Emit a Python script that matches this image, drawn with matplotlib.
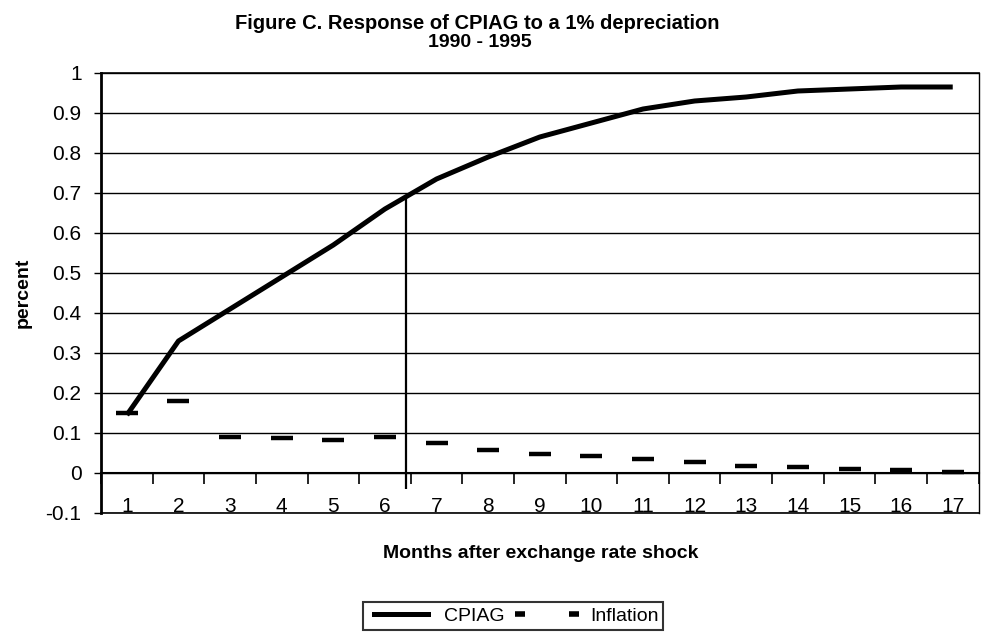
import matplotlib
matplotlib.use("Agg")
import matplotlib.pyplot as plt
from matplotlib.lines import Line2D
import numpy as np

plt.rcParams['font.family'] = ['Liberation Sans', 'DejaVu Sans']

months = list(range(1, 18))
cpiag = [0.145, 0.33, 0.41, 0.49, 0.57, 0.66, 0.735, 0.79, 0.84, 0.875,
         0.91, 0.93, 0.94, 0.955, 0.96, 0.965, 0.965]
inflation = [0.15, 0.18, 0.09, 0.087, 0.083, 0.09, 0.075, 0.058, 0.048, 0.043,
             0.035, 0.028, 0.018, 0.015, 0.01, 0.007, 0.002]
yticks = [round(-0.1 + 0.1 * i, 1) for i in range(12)]
ytick_labels = ['-0.1', '0', '0.1', '0.2', '0.3', '0.4', '0.5', '0.6', '0.7',
                '0.8', '0.9', '1']
marker_x = 6.41
marker_y = (-0.04, 0.695)

fig = plt.figure(figsize=(9.81, 6.32), dpi=100)
ax = fig.add_axes([0.103, 0.1883, 0.8945, 0.6962])

ax.set_xlim(0.5, 17.5)
ax.set_ylim(-0.1, 1.0)

# gridlines
ax.set_yticks(yticks)
ax.set_yticklabels(ytick_labels, fontsize=15)
ax.yaxis.grid(True, color='black', linewidth=1.0)
ax.set_axisbelow(True)
ax.tick_params(axis='y', direction='out', length=5, width=1, pad=9)

# category axis at y=0
ax.spines['bottom'].set_position(('data', 0))
ax.spines['bottom'].set_linewidth(1.5)
ax.set_xticks(months)
ax.set_xticklabels([str(m) for m in months], fontsize=15)
ax.tick_params(axis='x', which='major', length=0, pad=17)
ax.set_xticks(np.arange(0.5, 18.0, 1.0), minor=True)
ax.tick_params(axis='x', which='minor', direction='out', length=8, width=1.2)
ax.axhline(-0.1, color='black', linewidth=1.2, clip_on=False)

ax.spines['left'].set_linewidth(2)
ax.spines['top'].set_linewidth(1.2)
ax.spines['right'].set_linewidth(1)

l1, = ax.plot(months, cpiag, color='black', linewidth=3.6, solid_capstyle='butt',
              label='CPIAG', zorder=4)
l2, = ax.plot(months, inflation, linestyle='none', marker='_', markersize=16,
              markeredgewidth=3.2, color='black', label='Inflation', zorder=4)

ax.vlines(marker_x, marker_y[0], marker_y[1], color='black', linewidth=1.6,
          clip_on=False, zorder=3)

fig.text(0.487, 0.963, 'Figure C. Response of CPIAG to a 1% depreciation',
         ha='center', va='center', fontsize=14.5, fontweight='bold')
fig.text(0.489, 0.933, '1990 - 1995', ha='center', va='center', fontsize=14,
         fontweight='bold')

ax.set_ylabel('percent', fontsize=14, fontweight='bold', labelpad=10)
fig.text(0.551, 0.125, 'Months after exchange rate shock', ha='center',
         va='center', fontsize=14, fontweight='bold')

h1 = Line2D([], [], color='black', linewidth=3.6)
h2 = Line2D([], [], color='black', linestyle='none', marker='_', markersize=7,
            markeredgewidth=4)
leg = fig.legend(handles=[h1, h2], labels=['CPIAG', 'Inflation'], loc='center',
                 bbox_to_anchor=(0.523, 0.0255),
                 ncol=2, fontsize=14, frameon=True, fancybox=False,
                 edgecolor='black', handlelength=3.4, numpoints=2,
                 columnspacing=0.5, handletextpad=0.5, borderpad=0.25)
leg.get_frame().set_linewidth(1.5)

fig.savefig('out.png', dpi=100)
